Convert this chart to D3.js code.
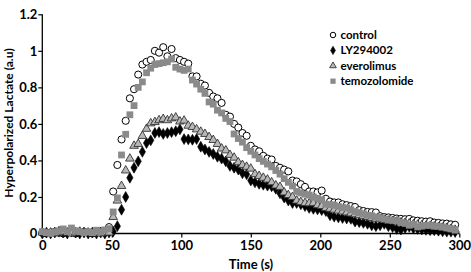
<!DOCTYPE html>
<html><head><meta charset="utf-8">
<script src="https://cdn.jsdelivr.net/npm/d3@7/dist/d3.min.js"></script>
<style>body{margin:0;background:#fff}svg{display:block}text{font-family:Lato,"Open Sans",sans-serif;font-weight:bold;fill:#000}</style>
</head><body><svg id="c" width="471" height="272"></svg>
<script>
const time = [0,3,6,9,12,15,18,21,24,27,30,33,36,39,42,45,48,51,54,57,60,63,66,69,72,75,78,81,84,87,90,93,96,99,102,105,108,111,114,117,120,123,126,129,132,135,138,141,144,147,150,153,156,159,162,165,168,171,174,177,180,183,186,189,192,195,198,201,204,207,210,213,216,219,222,225,228,231,234,237,240,243,246,249,252,255,258,261,264,267,270,273,276,279,282,285,288,291,294,297];
const control = [0.005,0,0.005,0.01,0.005,0,0.01,0.005,0,0.005,0.01,0.005,0,0.005,0.01,0.01,0.035,0.23,0.375,0.515,0.617,0.74,0.79,0.87,0.925,0.94,0.95,1.0,0.99,1.02,0.97,1.01,0.96,0.95,0.94,0.93,0.86,0.86,0.82,0.81,0.77,0.75,0.74,0.715,0.65,0.64,0.6,0.58,0.55,0.535,0.48,0.46,0.45,0.425,0.41,0.405,0.37,0.36,0.35,0.34,0.29,0.285,0.27,0.255,0.23,0.23,0.225,0.235,0.19,0.175,0.17,0.17,0.16,0.155,0.15,0.145,0.128,0.123,0.118,0.117,0.115,0.095,0.09,0.088,0.085,0.082,0.08,0.078,0.08,0.072,0.07,0.067,0.065,0.067,0.06,0.058,0.055,0.054,0.05,0.048];
const ly294002 = [0,0.005,0,0.005,0.01,0.005,0,0.01,0.005,0,0.005,0,0.005,0,0.005,0,0.005,0.01,0.04,0.13,0.2,0.305,0.36,0.395,0.447,0.495,0.51,0.55,0.555,0.545,0.55,0.555,0.56,0.57,0.517,0.515,0.513,0.517,0.475,0.46,0.447,0.435,0.42,0.41,0.395,0.37,0.36,0.35,0.33,0.324,0.29,0.28,0.272,0.267,0.262,0.258,0.245,0.22,0.197,0.18,0.167,0.167,0.16,0.15,0.14,0.135,0.132,0.128,0.123,0.1,0.092,0.088,0.085,0.082,0.08,0.065,0.062,0.058,0.053,0.045,0.04,0.045,0.053,0.04,0.035,0.025,0.022,0.03,0.036,0.028,0.025,0.022,0.02,0.018,0.018,0.015,0.012,0.01,0.01,0.008];
const everolimus = [0.005,0,0.005,0,0.005,0.01,0.005,0,0.005,0.01,0.005,0.005,0,0.005,0,0.005,0.005,0.09,0.18,0.26,0.345,0.41,0.48,0.49,0.534,0.573,0.603,0.61,0.62,0.627,0.62,0.63,0.635,0.613,0.618,0.59,0.583,0.57,0.557,0.545,0.528,0.512,0.49,0.465,0.455,0.43,0.415,0.39,0.375,0.365,0.355,0.325,0.315,0.305,0.295,0.28,0.263,0.255,0.225,0.21,0.2,0.18,0.172,0.167,0.165,0.167,0.155,0.15,0.14,0.135,0.13,0.125,0.12,0.115,0.11,0.105,0.1,0.095,0.09,0.085,0.08,0.078,0.075,0.07,0.068,0.065,0.06,0.058,0.055,0.05,0.048,0.045,0.042,0.04,0.038,0.035,0.032,0.03,0.025,0.02];
const temozolomide = [0.01,0.005,0,0.01,0.015,0.025,0.01,0.03,0.015,0.01,0.005,0.01,0.005,0.018,0.01,0.02,0.027,0.118,0.195,0.43,0.543,0.65,0.7,0.8,0.83,0.88,0.905,0.925,0.93,0.935,0.94,0.955,0.91,0.9,0.893,0.9,0.84,0.818,0.79,0.767,0.72,0.708,0.675,0.66,0.63,0.613,0.545,0.52,0.5,0.47,0.45,0.43,0.41,0.395,0.38,0.365,0.345,0.325,0.3,0.28,0.26,0.23,0.222,0.215,0.21,0.2,0.193,0.185,0.16,0.158,0.155,0.148,0.142,0.14,0.13,0.12,0.114,0.108,0.1,0.097,0.09,0.085,0.08,0.075,0.072,0.07,0.06,0.055,0.045,0.05,0.036,0.04,0.045,0.045,0.04,0.04,0.036,0.03,0.025,0.018];
const seriesNames = ["control","LY294002","everolimus","temozolomide"];
const xTicks = [0,50,100,150,200,250,300];
const yTicks = [0,0.2,0.4,0.6,0.8,1,1.2];
const xTitle = "Time (s)";
const yTitle = "Hyperpolarized Lactate (a.u)";

const svg = d3.select("#c");
const x = d3.scaleLinear().domain([0,300]).range([42.3,459.3]);
const y = d3.scaleLinear().domain([0,1.2]).range([233.5,14.3]);

const styles = {
  "control": {sym: d3.symbolCircle, size: 40, fill: "#fff", stroke: "#000", sw: 1},
  "LY294002": {sym: d3.symbolDiamond, size: 34, fill: "#000", stroke: "#000", sw: 0.6},
  "everolimus": {sym: d3.symbolTriangle, size: 32, fill: "#b8b8b8", stroke: "#333", sw: 0.9},
  "temozolomide": {sym: d3.symbolSquare, size: 46, fill: "#8a8a8a", stroke: "none", sw: 0}
};
const dataMap = {"control": control, "LY294002": ly294002, "everolimus": everolimus, "temozolomide": temozolomide};

// axes
const xAxis = d3.axisBottom(x).tickValues(xTicks).tickSize(4).tickPadding(2).tickFormat(d3.format("d"));
const gx = svg.append("g").attr("transform","translate(0,"+y(0)+")").call(xAxis);
gx.select(".domain").attr("stroke","#000").attr("stroke-width",1.3).attr("d","M"+x(0)+",0H"+x(300));
gx.selectAll(".tick line").attr("stroke","#000").attr("stroke-width",1.2);
gx.selectAll(".tick text").attr("font-size",13).attr("dy","0.78em").style("font-family","Lato,sans-serif").style("font-weight","bold");
const yAxis = d3.axisLeft(y).tickValues(yTicks).tickSize(4).tickFormat(d => d===0?"0":(d===1?"1":d3.format(".1f")(d)));
const gy = svg.append("g").attr("transform","translate("+x(0)+",0)").call(yAxis);
gy.select(".domain").attr("stroke","#000").attr("stroke-width",1.3).attr("d","M0,"+y(1.2)+"V"+y(0));
gy.selectAll(".tick line").attr("stroke","#000").attr("stroke-width",1.2);
gy.selectAll(".tick text").attr("font-size",13).attr("x",-5).style("font-family","Lato,sans-serif").style("font-weight","bold");

svg.append("text").attr("x",251).attr("y",268.5).attr("text-anchor","middle").attr("font-size",13).text(xTitle);
svg.append("text").attr("transform","translate(13,123) rotate(-90)").attr("text-anchor","middle").attr("font-size",12).text(yTitle);

// marks
seriesNames.forEach(name => {
  const s = styles[name];
  const vals = dataMap[name];
  svg.append("g").selectAll("path").data(time.map((t,i)=>[t,vals[i]])).join("path")
    .attr("transform", d => "translate("+x(d[0])+","+y(d[1])+")")
    .attr("d", d3.symbol().type(s.sym).size(s.size)())
    .attr("fill", s.fill).attr("stroke", s.stroke).attr("stroke-width", s.sw);
});

// legend
const lg = svg.append("g");
seriesNames.forEach((name,i) => {
  const s = styles[name];
  const yy = 35 + i*15.4;
  lg.append("path").attr("transform","translate(333,"+yy+")")
    .attr("d", d3.symbol().type(s.sym).size(s.size*0.6)())
    .attr("fill", s.fill).attr("stroke", s.stroke).attr("stroke-width", s.sw);
  lg.append("text").attr("x",340.5).attr("y",yy).attr("dy","0.35em").attr("font-size",11.5).text(name);
});
</script></body></html>
